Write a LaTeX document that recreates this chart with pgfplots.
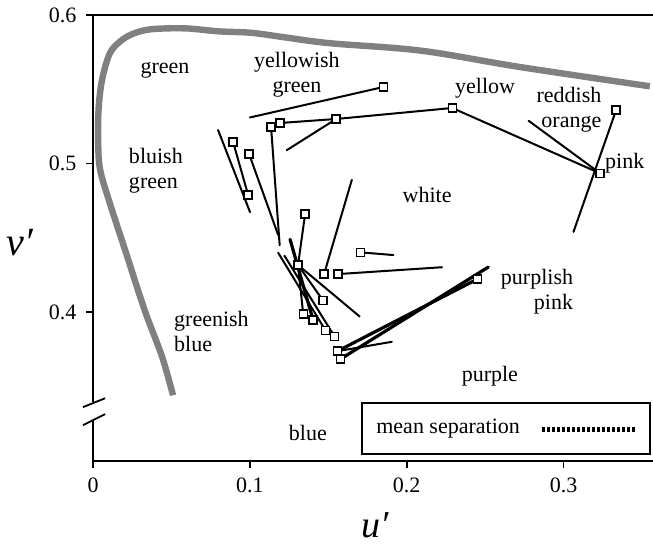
\documentclass[border=0pt]{standalone}
\usepackage{fontspec}
\setmainfont{Liberation Serif}
\usepackage{pgfplots}
\pgfplotsset{compat=1.18}
\begin{document}
\fontsize{11}{12.5}\selectfont
\begin{tikzpicture}
\begin{axis}[name=ax,
  scale only axis, width=279.9pt, height=222.75pt,
  xmin=0, xmax=0.357, ymin=0.30, ymax=0.60,
  axis line style={draw=none},
  clip=false,
  xtick={0,0.1,0.2,0.3}, xticklabels={0,0.1,0.2,0.3},
  ytick={0.4,0.5,0.6}, yticklabels={0.4,0.5,0.6},
  xtick pos=bottom, ytick pos=left,
  tick align=outside, major tick length=3.5pt,
  every tick/.style={black, line width=0.8pt},
  /pgf/number format/assume math mode=true,
  tick label style={font=\fontsize{11}{12}\selectfont},
  xticklabel style={yshift=-1pt},
  yticklabel style={xshift=-1pt},
  seg/.style={black, line width=1pt, line cap=round},
  thk/.style={black, line width=1.6pt, line cap=round},
]
% spectrum locus
\addplot[black!50, line width=3.2pt, line join=round, line cap=butt, smooth, tension=0.55] coordinates {
 (0.051,0.344) (0.044,0.370) (0.033,0.401) (0.021,0.440) (0.0105,0.474)
 (0.0045,0.496) (0.0033,0.514) (0.0035,0.536) (0.0057,0.556)
 (0.0108,0.5744) (0.0185,0.5832) (0.0268,0.5879) (0.038,0.5905) (0.059,0.591) (0.080,0.589)
 (0.101,0.588) (0.122,0.585) (0.151,0.581) (0.209,0.576) (0.272,0.565) (0.355,0.552)};
% separation segments
\addplot[seg] coordinates {(0.100,0.531) (0.185,0.5515)};
\addplot[seg] coordinates {(0.1193,0.5273) (0.155,0.530)};
\addplot[seg] coordinates {(0.155,0.530) (0.229,0.5374)};
\addplot[seg] coordinates {(0.1235,0.509) (0.155,0.530)};
\addplot[seg] coordinates {(0.1135,0.5246) (0.119,0.445)};
\addplot[seg] coordinates {(0.0797,0.5226) (0.1001,0.4673)};
\addplot[seg] coordinates {(0.0893,0.5145) (0.0989,0.4788)};
\addplot[seg] coordinates {(0.0995,0.5064) (0.118,0.452)};
\addplot[seg] coordinates {(0.229,0.5374) (0.3233,0.4934)};
\addplot[seg] coordinates {(0.2777,0.5288) (0.3233,0.4934)};
\addplot[seg] coordinates {(0.3335,0.536) (0.3063,0.454)};
\addplot[seg] coordinates {(0.1352,0.466) (0.1307,0.4317)};
\addplot[thk] coordinates {(0.1256,0.449) (0.1403,0.3946)};
\addplot[seg] coordinates {(0.1180,0.440) (0.1483,0.3875)};
\addplot[seg] coordinates {(0.1220,0.438) (0.154,0.3835)};
\addplot[seg] coordinates {(0.1307,0.4317) (0.134,0.3986)};
\addplot[seg] coordinates {(0.1307,0.4317) (0.1467,0.4077)};
\addplot[seg] coordinates {(0.1307,0.4317) (0.170,0.397)};
\addplot[seg] coordinates {(0.1473,0.4256) (0.165,0.489)};
\addplot[seg] coordinates {(0.1563,0.4256) (0.2225,0.4302)};
\addplot[seg] coordinates {(0.1707,0.4402) (0.1915,0.4384)};
\addplot[thk] coordinates {(0.1558,0.3737) (0.245,0.4222)};
\addplot[thk] coordinates {(0.1578,0.3684) (0.252,0.4303)};
\addplot[seg] coordinates {(0.1558,0.3737) (0.1905,0.380)};
% squares
\addplot[only marks, mark=square*, mark size=2pt,
  mark options={fill=white, draw=black, line width=0.7pt}] coordinates {
 (0.185,0.5515) (0.1135,0.5246) (0.1193,0.5273) (0.155,0.530) (0.229,0.5374)
 (0.3335,0.536) (0.3233,0.4934) (0.0893,0.5145) (0.0995,0.5064) (0.0989,0.4788)
 (0.1352,0.466) (0.1307,0.4317) (0.1473,0.4256) (0.1563,0.4256) (0.1707,0.4402)
 (0.1467,0.4077) (0.134,0.3986) (0.1403,0.3946) (0.1483,0.3875) (0.154,0.3835)
 (0.1558,0.3737) (0.1578,0.3684) (0.245,0.4222)};
% axis lines with break
\draw[black, line width=0.9pt] (axis cs:0,0.6) -- (axis cs:0.357,0.6);
\draw[black, line width=0.9pt] (axis cs:0,0.30) -- (axis cs:0.357,0.30);
\draw[black, line width=0.9pt] (axis cs:0,0.6) -- (axis cs:0,0.3395);
\draw[black, line width=0.9pt] (axis cs:0,0.3275) -- (axis cs:0,0.30);
\draw[black, line width=0.9pt] (axis cs:-0.0064,0.336) -- (axis cs:0.0077,0.342);
\draw[black, line width=0.9pt] (axis cs:-0.0064,0.3239) -- (axis cs:0.0077,0.3313);
% region labels
\node at (axis cs:0.0459,0.563) {green};
\node[align=center] at (axis cs:0.130,0.5600) {yellowish\\green};
\node[align=left, anchor=west] at (axis cs:0.0180,0.495) {bluish\\green};
\node at (axis cs:0.250,0.551) {yellow};
\node[align=right, anchor=east] at (axis cs:0.329,0.536) {reddish\\orange};
\node at (axis cs:0.339,0.500) {pink};
\node at (axis cs:0.213,0.4788) {white};
\node[align=right, anchor=east] at (axis cs:0.311,0.4138) {purplish\\pink};
\node at (axis cs:0.253,0.357) {purple};
\node[align=left, anchor=west] at (axis cs:0.0468,0.3872) {greenish\\blue};
\node at (axis cs:0.137,0.3185) {blue};
% legend box
\draw[black, line width=0.8pt, fill=white] (axis cs:0.1716,0.3387) rectangle (axis cs:0.3552,0.3044);
\node at (axis cs:0.2264,0.3219) {mean separation};
\draw[black, line width=2.4pt, dash pattern=on 1.3pt off 1.2pt] (axis cs:0.2864,0.3212) -- (axis cs:0.3469,0.3212);
% axis labels
\node[inner sep=0pt] at (axis cs:-0.0466,0.447) {\fontsize{20}{21}\selectfont\itshape v′};
\node[inner sep=0pt] at (axis cs:0.180,0.2565) {\fontsize{19}{20}\selectfont\itshape u′};
\end{axis}
\pgfresetboundingbox
\path[use as bounding box] ([xshift=-46.5pt, yshift=-42pt]ax.south west) rectangle ([yshift=7.5pt]ax.north east);
\end{tikzpicture}
\end{document}
